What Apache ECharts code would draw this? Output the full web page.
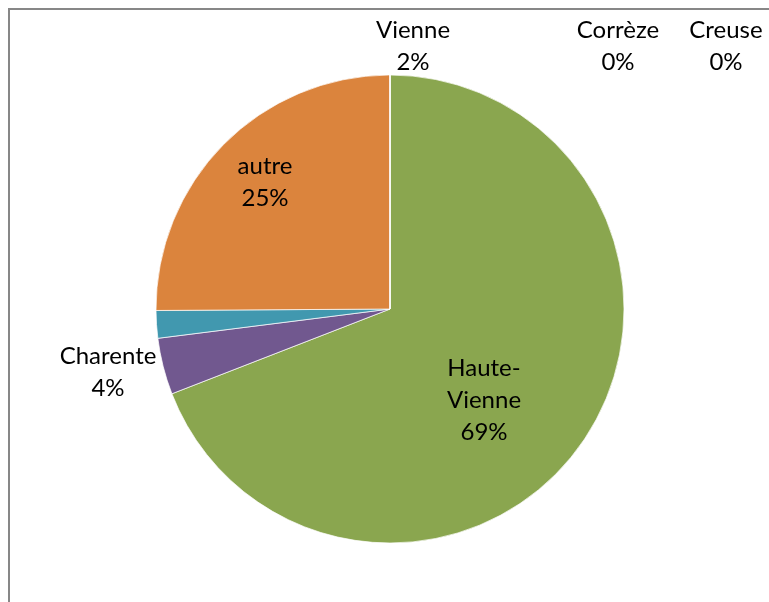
<!DOCTYPE html>
<html>
<head>
<meta charset="utf-8">
<script src="https://cdn.jsdelivr.net/npm/echarts@6/dist/echarts.min.js"></script>
<style>
html, body { margin: 0; padding: 0; background: #fff; }
#container { width: 769px; height: 602px; }
</style>
</head>
<body>
<div id="container"></div>
<script>
var dom = document.getElementById("container");
var myChart = echarts.init(dom);

// data (share of total, percent)
var names = ['Haute-Vienne', 'Charente', 'Vienne', 'autre', 'Corrèze', 'Creuse'];
var values = [69.1, 3.9, 1.9, 25.1, 0, 0];
var colors = ['#8aa64f', '#71588f', '#4198af', '#db843d', '#4f81bd', '#c0504d'];

// where the labels sit (centre of each label block)
var labelPos = [[484, 400], [108, 372], [413, 46], [265, 182], [618, 46], [726, 46]];

var pieData = [];
for (var i = 0; i < names.length; i++) {
    pieData.push({value: values[i], name: names[i], itemStyle: {color: colors[i]}});
}

option = {
    animation: false,
    backgroundColor: '#fff',
    graphic: [{
        type: 'rect',
        shape: {x: 9, y: 9, width: 900, height: 800},
        style: {fill: 'none', stroke: '#878787', lineWidth: 2},
        silent: true
    }],
    series: [
        {
            type: 'pie',
            center: [390, 309],
            radius: 234,
            startAngle: 90,
            clockwise: true,
            percentPrecision: 0,
            minShowLabelAngle: 0,
            stillShowZeroSum: true,
            itemStyle: {borderColor: 'rgba(255,255,255,0.7)', borderWidth: 1},
            label: {
                show: true,
                position: 'outside',
                color: '#000',
                fontFamily: 'Lato',
                fontSize: 24,
                lineHeight: 32,
                align: 'center',
                formatter: function (p) {
                    return p.name.replace('-', '-\n') + '\n' + p.percent + '%';
                }
            },
            labelLine: {show: false},
            labelLayout: function (p) {
                var pos = labelPos[p.dataIndex];
                return {x: pos[0], y: pos[1], align: 'center', verticalAlign: 'middle', hideOverlap: false};
            },
            data: pieData
        }
    ]
};
myChart.setOption(option, true);
</script>
</body>
</html>
